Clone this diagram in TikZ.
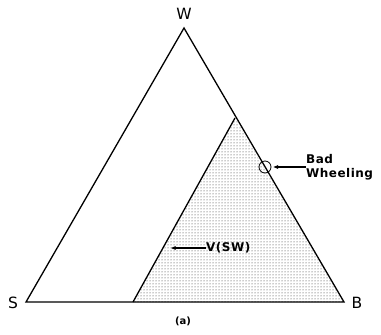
\documentclass[tikz,border=0pt]{standalone}
\usepackage{fontspec}
\setmainfont{DejaVu Sans}
\usetikzlibrary{arrows.meta,patterns}
\tikzset{
  corner label/.style={
    inner sep=0pt,
    font=\fontsize{15.5}{15.5}\selectfont
  },
  note label/.style={
    inner sep=0pt,
    align=left,
    font=\fontsize{12}{14.5}\selectfont\bfseries\addfontfeature{LetterSpace=4}
  },
  shaded region/.style={
    pattern=dots,
    pattern color=black!85
  },
  edge line/.style={
    line width=1.3pt,
    line join=miter
  },
  pointer/.style={
    {Stealth[length=5pt,width=4pt]}-,
    line width=1.2pt
  }
}

\begin{document}
\begin{tikzpicture}[x=1pt,y=-1pt]
  \useasboundingbox (0,0) rectangle (381,335);
  % Corners of the triangle
  \coordinate (w) at (184,28);
  \coordinate (s) at (26,302);
  \coordinate (b) at (344,302);
  \coordinate (vlow) at (133,302);
  \coordinate (vtop) at (235,118);

  % Region V(SW)
  \fill[shaded region] (vlow) -- (vtop) -- (b) -- cycle;
  \draw[edge line] (vlow) -- (vtop);

  \draw[edge line] (s) -- (w) -- (b) -- cycle;

  \node[corner label] (wlab) at (184,14) {W};
  \node[corner label] (slab) at (13,303) {S};
  \node[corner label] (blab) at (357,303) {B};
  \node[inner sep=0pt, font=\fontsize{10}{10}\selectfont\bfseries] (cap) at (183,321) {(a)};

  % Bad wheeling point
  \node[circle, draw, thick, minimum size=12pt, inner sep=0pt] (badpt) at (265,167) {};
  \node[note label, anchor=west] (badlab) at (306,167) {Bad\\Wheeling};
  \draw[pointer] (badpt.east) ++(2,0) coordinate (badtip) -- (badlab.west |- badtip);

  % Label inside the region
  \node[note label, anchor=west] (vsw) at (206,248) {V(SW)};
  \coordinate (vswtip) at (171,248);
  \draw[pointer] (vswtip) -- (vsw.west);
\end{tikzpicture}
\end{document}
